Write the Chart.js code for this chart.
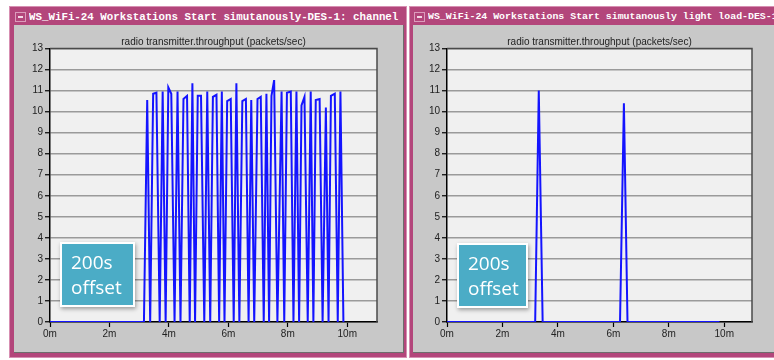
<!DOCTYPE html>
<html>
<head>
<meta charset="utf-8">
<script src="https://cdn.jsdelivr.net/npm/chart.js@4.4.1/dist/chart.umd.min.js"></script>
<style>
body{margin:0;width:774px;height:360px;background:#fff;position:relative;overflow:hidden;font-family:'Liberation Sans',sans-serif}
.win{position:absolute;top:6px;height:352px;background:#b3467b;border:1px solid #d78fb2;box-sizing:border-box}
.ttl{position:absolute;top:10px;height:14px;line-height:14px;color:#fff;font-family:'Liberation Mono',monospace;font-weight:bold;white-space:nowrap;overflow:hidden}
.btn{position:absolute;top:12px;width:11px;height:10px;border:1px solid #dc9cbc;box-sizing:border-box}
.btn:after{content:'';position:absolute;left:2px;right:2px;top:3px;height:2px;background:#f4d8e6}
.body{position:absolute;top:25px;background:#c8c8c8;border-right:1px solid #6d6d6d;border-bottom:1px solid #6d6d6d;box-sizing:border-box}
canvas{position:absolute}
.note{position:absolute;background:#4bacc6;border:2px solid #fff;box-shadow:1px 2px 4px rgba(0,0,0,.35);color:#fff;font-family:'Open Sans',sans-serif;font-size:19px;line-height:25px;box-sizing:border-box;padding:6px 0 0 9px}
</style>
</head>
<body>
<div class="win" style="left:9px;width:398px"></div>
<div class="btn" style="left:15px"></div>
<div class="ttl" style="left:29px;width:374px;font-size:10.8px">WS_WiFi-24 Workstations Start simutanously-DES-1: channel</div>
<div class="body" style="left:14px;width:390px;height:328px"></div>

<div class="win" style="left:409px;width:380px"></div>
<div class="btn" style="left:414px"></div>
<div class="ttl" style="left:428px;width:346px;font-size:9.9px">WS_WiFi-24 Workstations Start simutanously light load-DES-1: channel</div>
<div class="body" style="left:413px;width:370px;height:328px"></div>

<canvas id="left" width="389" height="326" style="left:14px;top:26px"></canvas>
<canvas id="right" width="361" height="326" style="left:413px;top:26px"></canvas>

<div class="note" style="left:60px;top:242px;width:75px;height:65px">200s<br>offset</div>
<div class="note" style="left:457px;top:243px;width:71px;height:65px">200s<br>offset</div>

<script>
// throughput (packets/sec) vs time in minutes
const leftTimes = [0, 3.16, 3.27, 3.37, 3.47, 3.58, 3.69, 3.79, 3.89, 3.98, 4.08, 4.19, 4.29, 4.39, 4.49, 4.61, 4.70, 4.79, 4.88, 4.97, 5.08, 5.19, 5.29, 5.39, 5.48, 5.60, 5.69, 5.78, 5.87, 5.96, 6.08, 6.18, 6.27, 6.37, 6.47, 6.59, 6.68, 6.77, 6.87, 6.98, 7.09, 7.19, 7.28, 7.37, 7.45, 7.54, 7.65, 7.79, 7.88, 7.97, 8.10, 8.19, 8.29, 8.38, 8.46, 8.56, 8.67, 8.77, 8.86, 8.94, 9.07, 9.17, 9.28, 9.37, 9.45, 9.58, 9.68, 9.77, 9.87];
const leftValues = [0, 0, 10.55, 0, 10.85, 10.9, 0, 10.95, 0, 11.15, 10.85, 0, 10.95, 0, 10.6, 10.75, 0, 11.35, 0, 10.75, 10.75, 0, 10.95, 0, 10.7, 10.8, 0, 10.95, 0, 10.5, 10.6, 0, 11.35, 0, 10.5, 10.6, 0, 10.55, 0, 10.6, 10.7, 0, 10.85, 0, 10.75, 11.5, 0, 10.95, 0, 10.9, 10.95, 0, 10.95, 0, 10.3, 10.7, 0, 10.95, 0, 10.55, 10.6, 0, 10.2, 0, 10.75, 10.85, 0, 10.95, 0];

const rightTimes = [0, 3.18, 3.31, 3.45, 6.24, 6.38, 6.51, 9.83];
const rightValues = [0, 0, 11.0, 0, 0, 10.4, 0, 0];

const xTicks = [0, 2, 4, 6, 8, 10];
const yTicks = [0, 1, 2, 3, 4, 5, 6, 7, 8, 9, 10, 11, 12, 13];
const chartTitle = 'radio transmitter.throughput (packets/sec)';

const plotFrame = {
    id: 'plotFrame',
    beforeDraw(chart){
        const a = chart.chartArea, c = chart.ctx;
        c.save();
        c.fillStyle = '#f0f0f0';
        c.fillRect(a.left, a.top, a.right - a.left, a.bottom - a.top);
        c.restore();
    },
    afterDraw(chart){
        const a = chart.chartArea, c = chart.ctx;
        c.save();
        c.strokeStyle = '#4a4a4a';
        c.lineWidth = 1.5;
        c.beginPath();
        c.moveTo(a.left, a.top);
        c.lineTo(a.right, a.top);
        c.lineTo(a.right, a.bottom);
        c.stroke();
        c.restore();
    }
};

function CreateGraph(canva, xs, ys, yAxisWidth, rightPad){
    let ctx = document.getElementById(canva);
    let points = xs.map((x, i) => ({x: x, y: ys[i]}));

    return new Chart(ctx, {
        type: 'line',
        data: {
            datasets: [{
                data: points,
                borderColor: '#1414ff',
                borderWidth: 2,
                pointRadius: 0,
                tension: 0,
                fill: false
            }]
        },
        plugins: [plotFrame],
        options: {
            responsive: false,
            animation: false,
            layout: {padding: {left: 0, right: rightPad, top: 0, bottom: 0}},
            plugins: {
                legend: {display: false},
                tooltip: {enabled: false},
                title: {
                    display: true,
                    text: chartTitle,
                    fullSize: false,
                    color: '#222',
                    font: {family: 'Liberation Sans', size: 10, weight: 'normal'},
                    padding: {top: 10.5, bottom: 0}
                }
            },
            scales: {
                x: {
                    type: 'linear',
                    min: 0,
                    max: 11,
                    afterBuildTicks: s => { s.ticks = xTicks.map(v => ({value: v})); },
                    afterFit: s => { s.height = 30; },
                    grid: {drawOnChartArea: false, tickColor: '#000', tickLength: 5, tickWidth: 1.2},
                    border: {color: '#000', width: 1.5},
                    ticks: {
                        autoSkip: false,
                        maxRotation: 0,
                        padding: 1,
                        color: '#222',
                        font: {family: 'Liberation Sans', size: 10},
                        callback: v => v + 'm'
                    }
                },
                y: {
                    min: 0,
                    max: 13,
                    afterBuildTicks: s => { s.ticks = yTicks.map(v => ({value: v})); },
                    afterFit: s => { s.width = yAxisWidth; },
                    grid: {color: '#9a9a9a', lineWidth: 1.5, tickColor: '#000', tickLength: 5, tickWidth: 1.2},
                    border: {color: '#000', width: 1.5},
                    ticks: {
                        padding: 2,
                        color: '#222',
                        font: {family: 'Liberation Sans', size: 10}
                    }
                }
            }
        }
    });
}

CreateGraph('left', leftTimes, leftValues, 36, 26);
CreateGraph('right', rightTimes, rightValues, 34, 22);
</script>
</body>
</html>
